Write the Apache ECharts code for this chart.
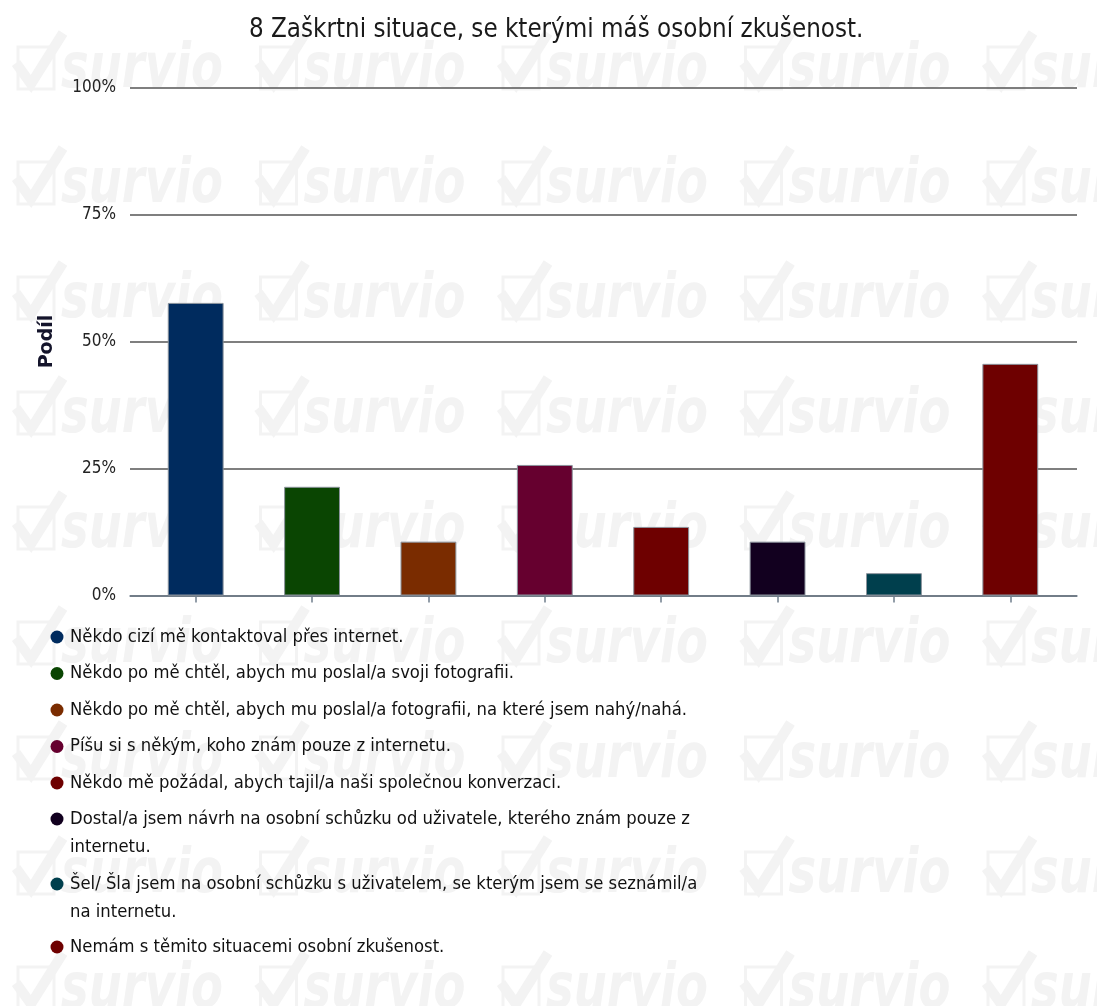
<!DOCTYPE html>
<html>
<head>
<meta charset="utf-8">
<title>8 Zaškrtni situace, se kterými máš osobní zkušenost.</title>
<script src="https://cdn.jsdelivr.net/npm/echarts@6/dist/echarts.min.js"></script>
<style>
html, body { margin: 0; padding: 0; background: #fff; }
#chart { width: 1097px; height: 1006px; }
</style>
</head>
<body>
<div id="chart"></div>
<script>
// odpovedi v poradi jako na ose x
var categories = [
    'Někdo cizí mě kontaktoval přes internet.',
    'Někdo po mě chtěl, abych mu poslal/a svoji fotografii.',
    'Někdo po mě chtěl, abych mu poslal/a fotografii, na které jsem nahý/nahá.',
    'Píšu si s někým, koho znám pouze z internetu.',
    'Někdo mě požádal, abych tajil/a naši společnou konverzaci.',
    'Dostal/a jsem návrh na osobní schůzku od uživatele, kterého znám pouze z internetu.',
    'Šel/ Šla jsem na osobní schůzku s uživatelem, se kterým jsem se seznámil/a na internetu.',
    'Nemám s těmito situacemi osobní zkušenost.'
];
var values = [57.6, 21.4, 10.6, 25.7, 13.5, 10.6, 4.4, 45.6];   // podil v %
var colors = ['#002b5e', '#0a4502', '#7a2c00', '#66002f', '#6e0000', '#12001f', '#003f4d', '#6e0000'];
var yTicks = [0, 25, 50, 75, 100];
var wrapWords = [0, 0, 0, 0, 0, 1, 2, 0];   // kolik slov z konce jde v legende na 2. radek

var narrow = "'DejaVu Sans Condensed', 'DejaVu Sans', sans-serif";
var LH = 28.5;

function wrapName(name) {
    var n = wrapWords[categories.indexOf(name)];
    if (!n) return name;
    var w = name.split(' ');
    // prazdny prvni radek -> kolecko zustane u prvniho radku textu
    return '\n' + w.slice(0, w.length - n).join(' ') + '\n' + w.slice(w.length - n).join(' ');
}

// vodoznak "survio"
var wmColor = '#f3f3f3';
var wm = [];
for (var r = 0; r < 9; r++) {
    for (var c = 0; c < 5; c++) {
        wm.push({
            type: 'group', x: 13 + 242.5 * c, y: 71 + 115 * r, silent: true, z: -1,
            children: [
                {type: 'rect', z: -1, shape: {x: 5, y: -24, width: 36, height: 42},
                 style: {fill: 'none', stroke: wmColor, lineWidth: 3}},
                {type: 'polyline', z: -1, shape: {points: [[3, -8], [18, 13], [50, -38]]},
                 style: {fill: null, stroke: wmColor, lineWidth: 10}},
                {type: 'text', z: -1, x: 48, y: 0, scaleX: 0.75,
                 style: {text: 'survio', fill: wmColor, verticalAlign: 'middle',
                         font: "italic bold 62px 'DejaVu Sans', sans-serif"}}
            ]
        });
    }
}

var chart = echarts.init(document.getElementById('chart'));

var series = [];
for (var i = 0; i < categories.length; ++i) {
    series.push({
        name: categories[i],
        type: 'bar',
        xAxisIndex: 1,
        yAxisIndex: 1,
        barWidth: '48%',
        barGap: '-100%',
        itemStyle: {color: colors[i], borderColor: '#8b939c', borderWidth: 1},
        data: values.map(function (v, j) { return j === i ? v : '-'; })
    });
}

function legend(names, top) {
    return {
        orient: 'vertical', left: 50.5, top: top, padding: 0,
        icon: 'circle', itemWidth: 16, itemHeight: 13, itemGap: 8,
        selectedMode: false,
        itemStyle: {borderWidth: 0},
        formatter: wrapName,
        textStyle: {fontFamily: narrow, fontSize: 18.3, color: '#111', lineHeight: LH},
        data: names
    };
}

var option = {
    animation: false,
    backgroundColor: '#fff',
    title: {
        text: '8 Zaškrtni situace, se kterými máš osobní zkušenost.',
        left: 249, top: 17, padding: 0,
        textStyle: {fontFamily: "'DejaVu Sans Condensed', 'DejaVu Sans'", fontSize: 25.7, fontWeight: 'normal', color: '#1a1a1a'}
    },
    graphic: wm,
    legend: [
        legend(categories.slice(0, 5), 637 - LH / 2),
        legend([categories[5]], 819 - LH * 1.5),
        legend([categories[6]], 884 - LH * 1.5),
        legend([categories[7]], 947 - LH / 2)
    ],
    grid: [
        {left: 130, right: 20, top: 87.5, bottom: 410.5},
        {left: 137.5, right: 28.5, top: 87.5, bottom: 410.5}
    ],
    xAxis: [
        {gridIndex: 0, type: 'category', data: [''],
         axisLine: {lineStyle: {color: '#6f7d8c', width: 1.5}},
         axisTick: {show: false}, axisLabel: {show: false}},
        {gridIndex: 1, type: 'category', data: categories,
         axisLine: {show: false},
         axisTick: {show: true, interval: 0, alignWithLabel: true, length: 7, lineStyle: {color: '#6f7d8c', width: 1.5}},
         axisLabel: {show: false, interval: 0}}
    ],
    yAxis: [
        {gridIndex: 0, type: 'value', min: yTicks[0], max: yTicks[yTicks.length - 1], interval: yTicks[1] - yTicks[0],
         name: 'Podíl', nameLocation: 'middle', nameGap: 73,
         nameTextStyle: {fontFamily: 'DejaVu Sans', fontWeight: 'bold', fontSize: 19, color: '#14142b'},
         axisLine: {show: false}, axisTick: {show: false},
         axisLabel: {formatter: '{value}%', margin: 14, fontFamily: narrow, fontSize: 17, color: '#222'},
         splitLine: {lineStyle: {color: '#555', width: 1.5}}},
        {gridIndex: 1, type: 'value', min: yTicks[0], max: yTicks[yTicks.length - 1], show: false}
    ],
    series: series
};
chart.setOption(option);
</script>
</body>
</html>
